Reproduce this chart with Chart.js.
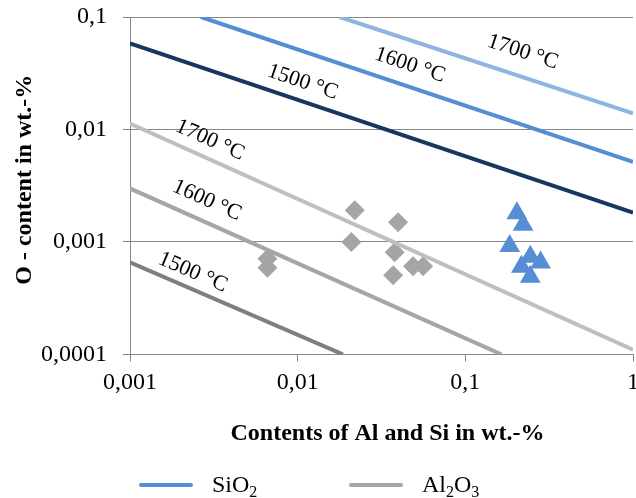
<!DOCTYPE html>
<html>
<head>
<meta charset="utf-8">
<script src="https://cdn.jsdelivr.net/npm/chart.js@4.4.0/dist/chart.umd.min.js"></script>
<style>
  html, body { margin: 0; padding: 0; background: #fff; }
</style>
</head>
<body>
<canvas id="OxygenChart" width="636" height="498"></canvas>
<script>
// equilibrium lines as [x, y] end points
var sio2_1500 = [[0.001, 0.0583], [1, 0.00182]];
var sio2_1600 = [[0.00265, 0.1], [1, 0.00515]];
var sio2_1700 = [[0.0178, 0.1], [1, 0.0139]];
var al2o3_1700 = [[0.001, 0.0113], [1, 0.00011]];
var al2o3_1600 = [[0.001, 0.00299], [0.164, 0.0001]];
var al2o3_1500 = [[0.001, 0.00066], [0.0186, 0.0001]];

// measured samples
var al2o3X = [0.0066, 0.0066, 0.0219, 0.0397, 0.0209, 0.0379, 0.0371, 0.0488, 0.0560];
var al2o3Y = [0.00071, 0.00059, 0.00191, 0.00150, 0.00100, 0.00081, 0.000505, 0.000607, 0.000607];
var sio2X = [0.203, 0.221, 0.184, 0.244, 0.281, 0.216, 0.244];
var sio2Y = [0.00180, 0.00142, 0.00092, 0.00074, 0.000655, 0.000602, 0.000491];

// temperature labels along the lines
var tempText = ['1500 °C', '1600 °C', '1700 °C', '1700 °C', '1600 °C', '1500 °C'];
var tempX = [0.0107, 0.0467, 0.22, 0.0030, 0.00288, 0.00237];
var tempY = [0.0264, 0.0374, 0.0488, 0.00804, 0.00234, 0.000536];
var tempLine = [0, 1, 2, 3, 4, 5];

var xTicks = [0.001, 0.01, 0.1, 1];
var yTicks = [0.0001, 0.001, 0.01, 0.1];

var FONT = '"Liberation Serif", "Times New Roman", serif';
var GRID = '#868686';

function pts(arr) {
  return arr.map(function (p) { return {x: p[0], y: p[1]}; });
}
function pairs(xs, ys) {
  return xs.map(function (x, i) { return {x: x, y: ys[i]}; });
}
function lineSet(data, color) {
  return {data: pts(data), showLine: true, borderColor: color, borderWidth: 4,
          pointRadius: 0, borderCapStyle: 'butt', order: 1};
}
function fmt(v) { return String(v).replace('.', ','); }

var labelPlugin = {
  id: 'extras',
  afterDatasetsDraw: function (chart) {
    var ctx = chart.ctx;
    var xs = chart.scales.x, ys = chart.scales.y;
    ctx.save();
    ctx.fillStyle = '#000';
    ctx.font = '22px ' + FONT;
    ctx.textAlign = 'center';
    ctx.textBaseline = 'middle';
    tempText.forEach(function (t, i) {
      var m = chart.getDatasetMeta(tempLine[i]).data;
      var a = Math.atan2(m[1].y - m[0].y, m[1].x - m[0].x);
      ctx.save();
      ctx.translate(xs.getPixelForValue(tempX[i]), ys.getPixelForValue(tempY[i]));
      ctx.rotate(a);
      ctx.fillText(t, 0, 0);
      ctx.restore();
    });

    // legend with real subscripts
    var ly = 485;
    var items = [
      {x: 139, color: '#558ed5', parts: [['SiO', 0], ['2', 1]]},
      {x: 349, color: '#a5a5a5', parts: [['Al', 0], ['2', 1], ['O', 0], ['3', 1]]}
    ];
    items.forEach(function (it) {
      ctx.strokeStyle = it.color;
      ctx.lineWidth = 4;
      ctx.lineCap = 'round';
      ctx.beginPath();
      ctx.moveTo(it.x + 2, ly);
      ctx.lineTo(it.x + 52, ly);
      ctx.stroke();
      var tx = it.x + 73;
      ctx.textAlign = 'left';
      ctx.textBaseline = 'alphabetic';
      it.parts.forEach(function (p) {
        ctx.font = (p[1] ? '16px ' : '24px ') + FONT;
        ctx.fillText(p[0], tx, ly + 7 + (p[1] ? 5 : 0));
        tx += ctx.measureText(p[0]).width;
      });
    });
    ctx.restore();
  }
};

var ctx = document.getElementById('OxygenChart').getContext('2d');
var chart = new Chart(ctx, {
  type: 'scatter',
  data: {
    datasets: [
      lineSet(sio2_1500, '#17375e'),
      lineSet(sio2_1600, '#558ed5'),
      lineSet(sio2_1700, '#8eb4e3'),
      lineSet(al2o3_1700, '#bfbfbf'),
      lineSet(al2o3_1600, '#a6a6a6'),
      lineSet(al2o3_1500, '#7f7f7f'),
      {data: pairs(al2o3X, al2o3Y), pointStyle: 'rectRot', pointRadius: 10,
       backgroundColor: '#a5a5a5', pointBorderWidth: 0, order: 2},
      {data: pairs(sio2X, sio2Y), pointStyle: 'triangle', pointRadius: 12,
       backgroundColor: '#558ed5', pointBorderWidth: 0, order: 2}
    ]
  },
  options: {
    responsive: false,
    animation: false,
    layout: {autoPadding: false, padding: {left: 0, top: 17, right: 0, bottom: 50}},
    plugins: {legend: {display: false}, tooltip: {enabled: false}},
    scales: {
      x: {
        type: 'logarithmic', min: 0.001, max: 1,
        afterBuildTicks: function (s) { s.ticks = xTicks.map(function (v) { return {value: v}; }); },
        afterFit: function (s) { s.paddingRight = 3; },
        ticks: {callback: fmt, font: {family: FONT, size: 24}, color: '#000',
                padding: 7, maxRotation: 0, autoSkip: false},
        grid: {drawOnChartArea: false, tickLength: 7, color: GRID},
        border: {color: GRID},
        title: {display: true, text: '  Contents of Al and Si in wt.-%', color: '#000',
                font: {family: FONT, size: 24, weight: 'bold'}, padding: {top: 15, bottom: 0}}
      },
      y: {
        type: 'logarithmic', min: 0.0001, max: 0.1,
        afterBuildTicks: function (s) { s.ticks = yTicks.map(function (v) { return {value: v}; }); },
        afterFit: function (s) { s.width = 130; s.paddingTop = 0; },
        ticks: {callback: fmt, font: {family: FONT, size: 24}, color: '#000', padding: 16},
        grid: {tickLength: 7, color: GRID},
        border: {color: GRID},
        title: {display: true, text: '  O - content in wt.-%', color: '#000',
                font: {family: FONT, size: 24, weight: 'bold'}, padding: {top: 10, bottom: 0}}
      }
    }
  },
  plugins: [labelPlugin]
});
</script>
</body>
</html>
